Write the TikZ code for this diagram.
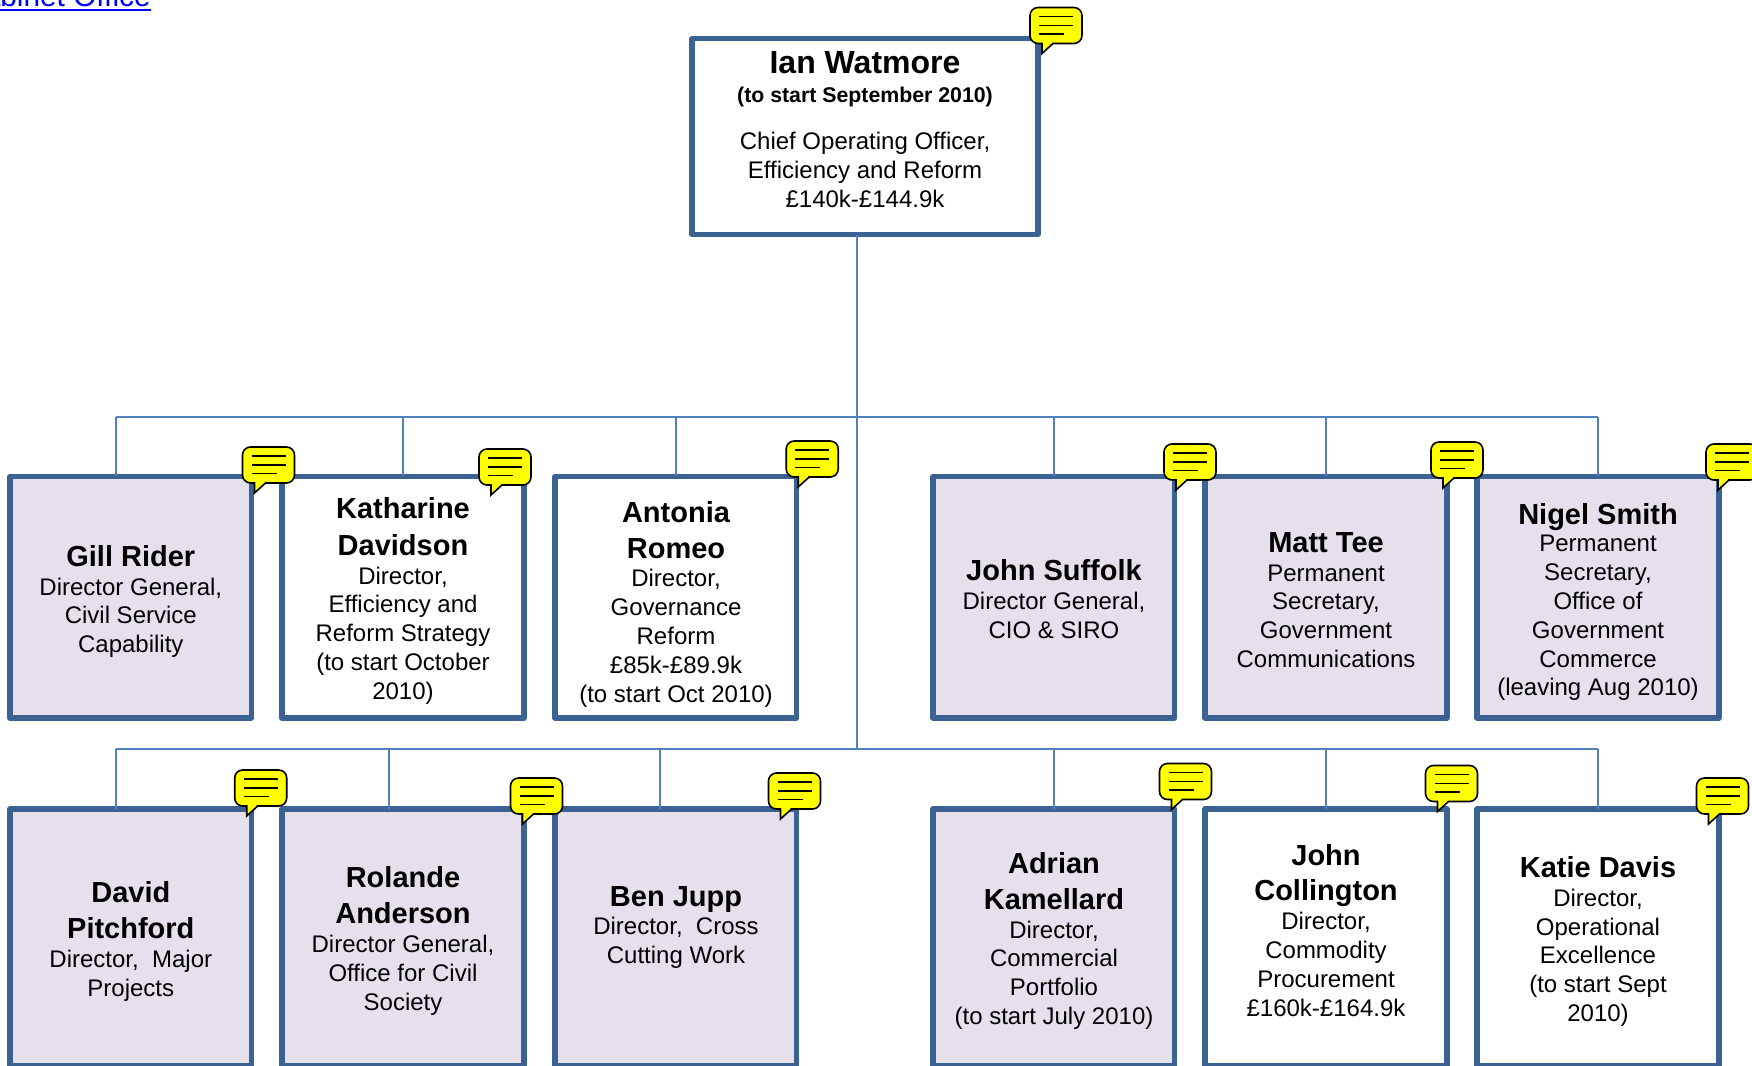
\documentclass[tikz,border=0pt]{standalone}
\usepackage{fontspec}
\setmainfont{Liberation Sans}
\definecolor{boxline}{HTML}{3B6293}
\definecolor{conn}{HTML}{4F81BD}
\definecolor{lilac}{HTML}{E5E0EC}
\definecolor{bubyellow}{HTML}{FFFF00}
\definecolor{linkblue}{HTML}{0000FF}
\newcommand\nm[1]{{\fontsize{14.5}{14.4}\selectfont\bfseries #1}}
\newcommand\bub[2]{%
  \begin{scope}[shift={(#1,#2)}]
    \draw[bubshape] (26,0) -- (52,0) -- (52,36) -- (30,36) [sharp corners] -- (23,36) -- (12,46) -- (12,36) -- (9,36) [rounded corners=4pt] -- (0,36) -- (0,0) -- cycle;
    \draw[bubline] (9,9) -- (43,9) (9,18) -- (43,18) (9,26.5) -- (34,26.5);
  \end{scope}}
\tikzset{
  x=0.5pt,y=-0.5pt,
  frame/.style={draw=boxline,line width=2.75pt,line join=round,minimum width=120.8pt,minimum height=120.8pt,inner sep=0pt,outer sep=0pt},
  framelow/.style={frame,minimum height=128.4pt},
  plainfill/.style={fill=white},
  lilacfill/.style={fill=lilac},
  txt/.style={align=center,inner sep=0pt,font=\fontsize{12}{14.4}\selectfont},
  link/.style={draw=conn,line width=1pt},
  bubshape/.style={draw=black,fill=bubyellow,line width=0.8pt,rounded corners=4pt},
  bubline/.style={draw=black,line width=0.75pt},
}
\begin{document}
\begin{tikzpicture}
\useasboundingbox (0,0) rectangle (1752,1066);
\clip (0,0) rectangle (1752,1066);
% bus coordinates
\coordinate (busA) at (116,417);
\coordinate (busAe) at (1598,417);
\coordinate (busB) at (116,749);
\coordinate (busBe) at (1598,749);
\coordinate (trunkA) at (857,417);
\coordinate (trunkB) at (857,749);
\coordinate (a2) at (403,417);
\coordinate (a3) at (676,417);
\coordinate (a4) at (1054,417);
\coordinate (a5) at (1326,417);
\coordinate (b2) at (389,749);
\coordinate (b3) at (660,749);
\coordinate (b4) at (1054,749);
\coordinate (b5) at (1326,749);
% boxes
\node[frame,plainfill,minimum width=173pt,minimum height=97.9pt] (top) at (865,136.6) {};
\node[frame,lilacfill] (b11) at (130.8,597.2) {};
\node[frame,plainfill] (b12) at (403,597.2) {};
\node[frame,plainfill] (b13) at (675.8,597.2) {};
\node[frame,lilacfill] (b14) at (1053.8,597.2) {};
\node[frame,lilacfill] (b15) at (1326,597.2) {};
\node[frame,lilacfill] (b16) at (1598,597.2) {};
\node[framelow,lilacfill] (b21) at (130.8,937.4) {};
\node[framelow,lilacfill] (b22) at (403,937.4) {};
\node[framelow,lilacfill] (b23) at (675.8,937.4) {};
\node[framelow,lilacfill] (b24) at (1053.8,937.4) {};
\node[framelow,plainfill] (b25) at (1326,937.4) {};
\node[framelow,plainfill] (b26) at (1598,937.4) {};
% connectors
\draw[link] (top.south -| trunkA) -- (trunkB);
\draw[link] (busA) -- (busAe);
\draw[link] (busB) -- (busBe);
\draw[link] (busA) -- (busA |- b11.north);
\draw[link] (a2) -- (a2 |- b12.north);
\draw[link] (a3) -- (a3 |- b13.north);
\draw[link] (a4) -- (a4 |- b14.north);
\draw[link] (a5) -- (a5 |- b15.north);
\draw[link] (busAe) -- (busAe |- b16.north);
\draw[link] (busB) -- (busB |- b21.north);
\draw[link] (b2) -- (b2 |- b22.north);
\draw[link] (b3) -- (b3 |- b23.north);
\draw[link] (b4) -- (b4 |- b24.north);
\draw[link] (b5) -- (b5 |- b25.north);
\draw[link] (busBe) -- (busBe |- b26.north);
% texts
\node[txt] (ttop) at (865,129.2) {{\fontsize{16}{14.4}\selectfont\bfseries Ian Watmore}\\[0.2pt]{\fontsize{10.65}{12}\selectfont\bfseries (to start September 2010)}\\[9.2pt]Chief Operating Officer,\\Efficiency and Reform\\£140k-£144.9k};
\node[txt] (t11) at (130.8,601.5) {\nm{Gill Rider}\\Director General,\\Civil Service\\Capability};
\node[txt] (t12) at (403,600.8) {\nm{Katharine}\\[4pt]\nm{Davidson}\\Director,\\Efficiency and\\Reform Strategy\\(to start October\\2010)};
\node[txt] (t13) at (676,604.2) {\nm{Antonia}\\[3.5pt]\nm{Romeo}\\Director,\\Governance\\Reform\\£85k-£89.9k\\(to start Oct 2010)};
\node[txt] (t14) at (1054,599) {\nm{John Suffolk}\\Director General,\\CIO \& SIRO};
\node[txt] (t15) at (1326,600) {\nm{Matt Tee}\\Permanent\\Secretary,\\Government\\Communications};
\node[txt] (t16) at (1598,602) {\nm{Nigel Smith}\\[-0.5pt]Permanent\\Secretary,\\Office of\\Government\\Commerce\\(leaving Aug 2010)};
\node[txt] (t21) at (130.8,941.5) {\nm{David}\\[3.5pt]\nm{Pitchford}\\Director,\ \ Major\\Projects};
\node[txt] (t22) at (403,940.7) {\nm{Rolande}\\[4pt]\nm{Anderson}\\Director General,\\Office for Civil\\Society};
\node[txt] (t23) at (676,927.5) {\nm{Ben Jupp}\\Director,\ \ Cross\\Cutting Work};
\node[txt] (t24) at (1054,941) {\nm{Adrian}\\[3.5pt]\nm{Kamellard}\\Director,\\Commercial\\Portfolio\\(to start July 2010)};
\node[txt] (t25) at (1326,930.2) {\nm{John}\\[3.5pt]\nm{Collington}\\Director,\\Commodity\\Procurement\\£160k-£164.9k};
\node[txt] (t26) at (1598,941.5) {\nm{Katie Davis}\\Director,\\Operational\\Excellence\\(to start Sept\\2010)};
% bubbles
\bub{1030}{7.5}
\bub{242.5}{447}
\bub{479}{449}
\bub{786.2}{441}
\bub{1164}{444}
\bub{1431}{442}
\bub{1706}{444}
\bub{234.7}{770}
\bub{510.5}{778}
\bub{768.5}{773}
\bub{1159.5}{763.5}
\bub{1425.5}{765.5}
\bub{1696.5}{778}
% clipped link at top left
\node[anchor=base east,inner sep=0pt,text=linkblue,font=\fontsize{14.9}{16}\selectfont] (linkcab) at (151,6.5) {\sbox0{Cabinet Office}\rlap{\rule[-2.1pt]{\wd0}{1pt}}\box0};
\end{tikzpicture}
\end{document}
